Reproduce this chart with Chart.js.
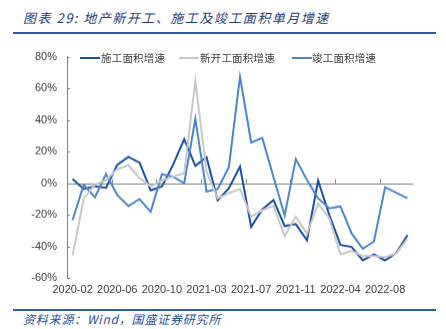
<!DOCTYPE html>
<html>
<head>
<meta charset="utf-8">
<script src="https://cdn.jsdelivr.net/npm/chart.js@4.4.0/dist/chart.umd.min.js"></script>
<style>
body { margin: 0; width: 446px; height: 329px; background: #fff; position: relative; overflow: hidden; font-family: "Noto Sans CJK SC", sans-serif; }
#title { position: absolute; left: 23px; top: 8px; font-size: 13px; font-style: italic; color: #1f3d7a; white-space: nowrap; letter-spacing: 1.5px; }
.rule { position: absolute; left: 13px; width: 423px; height: 2px; background: #2c5ea8; }
#src { position: absolute; left: 23px; top: 310px; font-size: 12px; font-style: italic; color: #1f4f9f; white-space: nowrap; letter-spacing: 0.8px; }
.item { position: absolute; top: 50px; font-size: 10.5px; color: #404040; white-space: nowrap; line-height: 15px; letter-spacing: 0.2px; }
.swatch { position: absolute; top: 57px; width: 20px; height: 2px; }
#wrap { position: absolute; left: 0; top: 40px; width: 446px; height: 265.5px; }
</style>
</head>
<body>
<div id="title">图表 29: 地产新开工、施工及竣工面积单月增速</div>
<div class="rule" style="top:32px"></div>

<div id="wrap"><canvas id="chart"></canvas></div>

<div class="swatch" style="left:80px;background:#1a4f9f"></div>
<div class="item" style="left:101px">施工面积增速</div>
<div class="swatch" style="left:179px;background:#c8c8c8"></div>
<div class="item" style="left:200px">新开工面积增速</div>
<div class="swatch" style="left:292px;background:#4a86c8"></div>
<div class="item" style="left:312px">竣工面积增速</div>

<div class="rule" style="top:309px"></div>
<div id="src">资料来源：Wind，国盛证券研究所</div>

<script>
// months (Jan-Feb reported together, so no January)
const months = [
    '2020-02', '2020-03', '2020-04', '2020-05', '2020-06', '2020-07', '2020-08', '2020-09', '2020-10', '2020-11', '2020-12',
    '2021-02', '2021-03', '2021-04', '2021-05', '2021-06', '2021-07', '2021-08', '2021-09', '2021-10', '2021-11', '2021-12',
    '2022-02', '2022-03', '2022-04', '2022-05', '2022-06', '2022-07', '2022-08', '2022-09', '2022-10'
];

// single-month growth, %
const construction = [2.7, -3.6, -2, -2.8, 11.6, 16.7, 13, -4.4, -2, 11.6, 27.9,
    11, 16.5, -10.8, -3.2, 10.6, -27.5, -16.5, -10.6, -27, -25.8, -36,
    1.7, -20, -39, -40.2, -48.7, -45, -48.7, -44, -32.8];
const newStarts = [-45.5, -9.5, -1, 2, 8.9, 11.4, 3.2, -2, 1.7, 4.2, 6.3,
    64.6, 7.4, -9.5, -6.3, -3.6, -21, -17, -14.2, -33.4, -21, -32,
    -12.8, -22.2, -44.9, -42.8, -46, -46, -46.6, -44.4, -35];
const completions = [-23.3, -1, -8.9, 5.9, -7.4, -14.4, -10, -18, 5.7, 4.2, 0,
    40.6, -5.3, -3.6, 10.2, 67.3, 25.8, 28.6, 4, -20.4, 15.3, 2,
    -9.5, -15.9, -14.6, -31.7, -41.3, -36.8, -2.5, -6, -9.5];

const seriesNames = ['施工面积增速', '新开工面积增速', '竣工面积增速'];
const yTicks = [80, 60, 40, 20, 0, -20, -40, -60];

// zero line with small up ticks, plus inner ticks on the y axis
const axisMarks = {
    id: 'axisMarks',
    beforeDatasetsDraw(chart) {
        const { ctx, chartArea, scales: { x, y } } = chart;
        const y0 = y.getPixelForValue(0);
        ctx.save();
        ctx.strokeStyle = '#7f7f7f';
        ctx.lineWidth = 1;
        ctx.beginPath();
        ctx.moveTo(chartArea.left, Math.round(y0) + 0.5);
        ctx.lineTo(chartArea.right, Math.round(y0) + 0.5);
        const step = x.getPixelForValue(1) - x.getPixelForValue(0);
        for (let i = 4; i < months.length; i += 4) {
            const px = Math.round(x.getPixelForValue(i) - step / 2) + 0.5;
            ctx.moveTo(px, y0);
            ctx.lineTo(px, y0 - 4);
        }
        yTicks.forEach(v => {
            const py = Math.round(y.getPixelForValue(v)) + 0.5;
            ctx.moveTo(chartArea.left, py);
            ctx.lineTo(chartArea.left + 3, py);
        });
        ctx.stroke();
        ctx.restore();
    }
};

const ctx = document.getElementById('chart').getContext('2d');

function line(label, data, color) {
    return {
        label: label,
        data: data,
        borderColor: color,
        backgroundColor: color,
        borderWidth: 2,
        pointRadius: 0,
        tension: 0,
        fill: false
    };
}

new Chart(ctx, {
    type: 'line',
    data: {
        labels: months,
        datasets: [
            line(seriesNames[1], newStarts, '#c8c8c8'),
            line(seriesNames[2], completions, '#4a86c8'),
            line(seriesNames[0], construction, '#1a4f9f')
        ]
    },
    options: {
        responsive: true,
        maintainAspectRatio: false,
        animation: false,
        layout: { padding: { top: 12, right: 33, bottom: 5, left: 0 } },
        plugins: {
            legend: { display: false },
            tooltip: { enabled: false }
        },
        scales: {
            x: {
                offset: true,
                grid: { display: false, drawTicks: false },
                border: { display: false },
                ticks: {
                    autoSkip: false,
                    maxRotation: 0,
                    padding: 5,
                    color: '#404040',
                    font: { family: 'Liberation Sans, Arial, sans-serif', size: 11 },
                    callback: (v, i) => i % 4 === 0 ? months[i] : ''
                }
            },
            y: {
                min: -60,
                max: 80,
                afterFit: s => { s.width = 67; },
                afterBuildTicks: s => { s.ticks = yTicks.map(v => ({ value: v })); },
                grid: { display: false, drawTicks: false },
                border: { display: true, color: '#7f7f7f', width: 1 },
                ticks: {
                    padding: 10,
                    color: '#404040',
                    font: { family: 'Liberation Sans, Arial, sans-serif', size: 11 },
                    callback: v => v + '%'
                }
            }
        }
    },
    plugins: [axisMarks]
});
</script>
</body>
</html>
